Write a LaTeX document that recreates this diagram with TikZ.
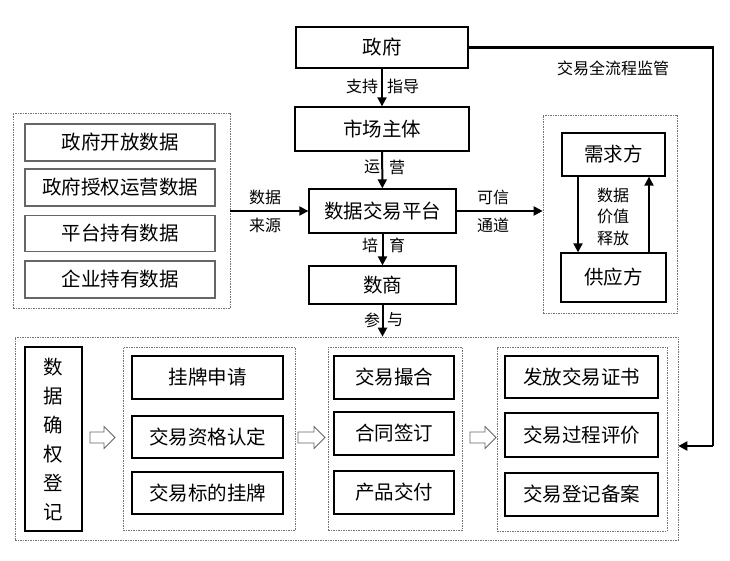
\documentclass[tikz,border=0pt]{standalone}
\usepackage{fontspec}
\setmainfont{Noto Sans CJK SC}
\usetikzlibrary{arrows.meta,calc}
\tikzset{
  x=1pt,y=-1pt,
  bx/.style={draw=black,line width=1.3pt,inner sep=0pt,font=\fontsize{19.5}{21}\selectfont},
  gbx/.style={draw=black!60,line width=1.1pt,inner sep=0pt,font=\fontsize{19.5}{21}\selectfont},
  dbox/.style={draw=black!55,line width=0.7pt,dash pattern=on 1.5pt off 1pt},
  arr/.style={line width=2pt,-{Triangle[length=9pt,width=9pt]}},
  lbl/.style={inner sep=0pt,font=\fontsize{16}{18}\selectfont},
  harrow/.style={draw=black!60,line width=0.8pt,fill=white},
}
\begin{document}
\begin{tikzpicture}
\useasboundingbox (0,0) rectangle (730,561);
\fill[white] (0,0) rectangle (730,561);

% dashed containers
\node[dbox,minimum width=217,minimum height=195,inner sep=0] (ldash) at (121.5,210.5) {};
\node[dbox,minimum width=134,minimum height=198,inner sep=0] (rdash) at (610,214) {};
\node[dbox,minimum width=663,minimum height=203,inner sep=0] (outer) at (346.5,438.5) {};
\node[dbox,minimum width=172,minimum height=183,inner sep=0] (d2) at (209,438.5) {};
\node[dbox,minimum width=134,minimum height=183,inner sep=0] (d3) at (395,438.5) {};
\node[dbox,minimum width=170,minimum height=184,inner sep=0] (d4) at (582,439) {};

% central column
\node[bx,minimum width=172,minimum height=41] (gov) at (382,47.5) {政府};
\node[bx,minimum width=174,minimum height=44] (market) at (382,129) {市场主体};
\node[bx,minimum width=147,minimum height=44] (platform) at (382.5,211) {数据交易平台};
\node[bx,minimum width=147,minimum height=38] (shang) at (382.5,285) {数商};

% left data sources
\node[gbx,minimum width=190,minimum height=37] (s1) at (120,142.5) {政府开放数据};
\node[gbx,minimum width=190,minimum height=37] (s2) at (120,187.5) {政府授权运营数据};
\node[gbx,minimum width=190,minimum height=36] (s3) at (120,233.5) {平台持有数据};
\node[gbx,minimum width=190,minimum height=37] (s4) at (120,279.5) {企业持有数据};

% right demand / supply
\node[bx,minimum width=103,minimum height=43] (demand) at (613.5,154.5) {需求方};
\node[bx,minimum width=105,minimum height=49] (supply) at (613.5,277.5) {供应方};

% bottom row
\node[bx,minimum width=57,minimum height=184,align=center,font=\fontsize{19.5}{29}\selectfont] (reg) at (53.5,439) {数\\据\\确\\权\\登\\记};

\node[bx,minimum width=151,minimum height=43] (b1) at (207.5,377.5) {挂牌申请};
\node[bx,minimum width=151,minimum height=42] (b2) at (207.5,437) {交易资格认定};
\node[bx,minimum width=151,minimum height=42] (b3) at (207.5,493) {交易标的挂牌};

\node[bx,minimum width=120,minimum height=43] (c1) at (394,377.5) {交易撮合};
\node[bx,minimum width=120,minimum height=43] (c2) at (394,433.5) {合同签订};
\node[bx,minimum width=120,minimum height=43] (c3) at (394,492.5) {产品交付};

\node[bx,minimum width=153,minimum height=42] (e1) at (581.5,377) {发放交易证书};
\node[bx,minimum width=153,minimum height=44] (e2) at (581.5,435) {交易过程评价};
\node[bx,minimum width=153,minimum height=43] (e3) at (581.5,494.5) {交易登记备案};

% hollow arrows
\foreach \xa/\xb in {90/115, 298/325, 470/496}{
  \draw[harrow] (\xa,432) -- ({\xb-11},432) -- ({\xb-11},426.5) -- (\xb,437.5) -- ({\xb-11},448.5) -- ({\xb-11},443) -- (\xa,443) -- cycle;
}

% arrows
\draw[arr] (gov) -- (market);
\draw[arr] (market) -- (platform);
\draw[arr] (platform) -- (shang);
\draw[arr] (shang) -- (shang |- outer.north);
\draw[arr] (ldash.east |- platform.west) -- (platform.west);
\draw[arr] (platform.east) -- (platform.east -| rdash.west);
\draw[arr] ([xshift=-35.5pt]demand.south) -- ([xshift=-35.5pt]demand.south |- supply.north);
\draw[arr] ([xshift=35.5pt]supply.north) -- ([xshift=35.5pt]supply.north |- demand.south);
\coordinate (sv) at (713,446);
\draw[line width=2.4pt] (gov.east) -| (sv);
\draw[arr,line width=2.4pt] (sv) -- (sv -| outer.east);

% labels
\node[lbl] (l1) at (613,68) {交易全流程监管};
\node[lbl] (l2) at (362,86) {支持};
\node[lbl] (l3) at (403,86) {指导};
\node[lbl] (l4) at (372,167) {运};
\node[lbl] (l5) at (397,167) {营};
\node[lbl] (l6) at (370,245) {培};
\node[lbl] (l7) at (397,245) {育};
\node[lbl] (l8) at (372,320) {参};
\node[lbl] (l9) at (395,320) {与};
\node[lbl] (l10) at (493,197) {可信};
\node[lbl] (l11) at (493,225) {通道};
\node[lbl] (l12) at (265,197) {数据};
\node[lbl] (l13) at (265,225) {来源};
\node[lbl] (l14) at (613,195) {数据};
\node[lbl] (l15) at (613,216.5) {价值};
\node[lbl] (l16) at (613,238) {释放};
\end{tikzpicture}
\end{document}
